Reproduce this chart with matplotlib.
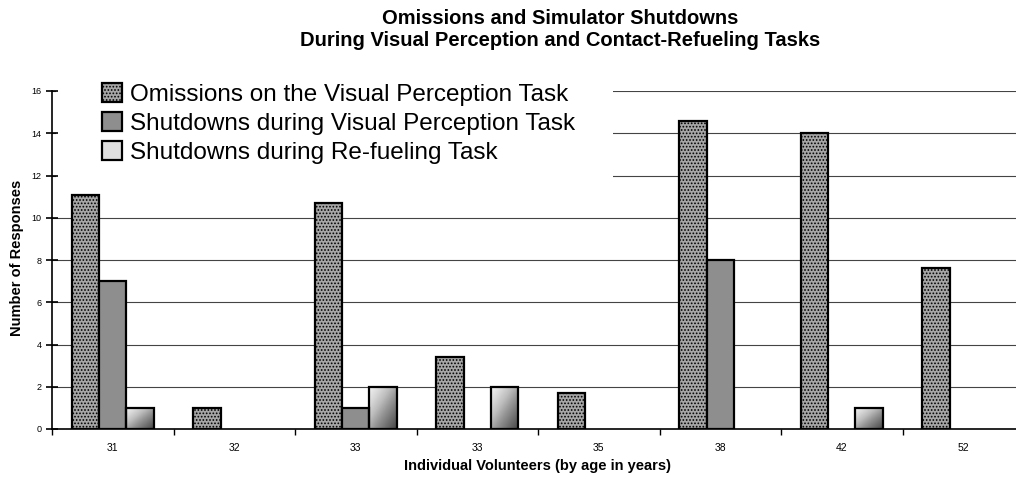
import numpy as np
import matplotlib
matplotlib.use("Agg")
import matplotlib.pyplot as plt
from matplotlib.patches import Patch, Rectangle

plt.rcParams['font.family'] = ['Liberation Sans', 'DejaVu Sans']
plt.rcParams['hatch.linewidth'] = 0.8

# data
volunteers = ['31', '32', '33', '33', '35', '38', '42', '52']
omissions_vp = [11.1, 1.0, 10.7, 3.4, 1.7, 14.6, 14.0, 7.6]
shutdowns_vp = [7, 0, 1, 0, 0, 8, 0, 0]
shutdowns_refuel = [1, 0, 2, 2, 0, 0, 1, 0]
series_labels = ['Omissions on the Visual Perception Task',
                 'Shutdowns during Visual Perception Task',
                 'Shutdowns during Re-fueling Task']

fig = plt.figure(figsize=(10.16, 4.79), dpi=100)
ax = fig.add_axes([52/1016, 1-429/479, (1024-52)/1016, (429-91)/479])

x = np.arange(len(volunteers))
w = 0.225

# gridlines
for yv in range(2, 17, 2):
    ax.axhline(yv, color='#444444', lw=0.8, zorder=1)

# white area behind the legend hides the upper gridlines on the left
ax.add_patch(Rectangle((56/1016, 1-186/479), (613-56)/1016, (186-55)/479,
                       transform=fig.transFigure, facecolor='white',
                       edgecolor='none', zorder=1.5, clip_on=False))

b1 = ax.bar(x - w, omissions_vp, w, facecolor='#a6a6a6', edgecolor='black',
            hatch='.....', lw=1.6, zorder=3)
b2 = ax.bar(x, shutdowns_vp, w, facecolor='#8e8e8e', edgecolor='black',
            lw=1.6, zorder=3)
b3 = ax.bar(x + w, shutdowns_refuel, w, facecolor='none', edgecolor='black',
            lw=1.6, zorder=3)
for cont in (b1, b2, b3):
    for rect in cont:
        if rect.get_height() == 0:
            rect.set_visible(False)

# diagonal white-to-grey gradient inside the re-fueling bars
gx, gy = np.meshgrid(np.linspace(0, 1, 50), np.linspace(0, 1, 50))
grad = (gx + gy) / 2
for rect, v in zip(b3, shutdowns_refuel):
    if v <= 0:
        continue
    x0 = rect.get_x()
    im = ax.imshow(grad, extent=[x0, x0 + rect.get_width(), 0, v], origin='upper',
                   cmap='Greys', vmin=-0.15, vmax=1.3, aspect='auto', zorder=2.5,
                   interpolation='bilinear')
    im.set_clip_path(rect)

ax.set_xlim(-0.5, len(volunteers) - 0.5)
ax.set_ylim(0, 16)

ax.spines['top'].set_visible(False)
ax.spines['right'].set_visible(False)
ax.spines['left'].set_linewidth(1.2)
ax.spines['bottom'].set_linewidth(1.2)

ax.set_xticks(x)
ax.set_xticklabels(volunteers, fontsize=7.5)
ax.tick_params(axis='x', which='major', length=0, pad=10)
ax.set_xticks(np.arange(len(volunteers)) - 0.5, minor=True)
ax.tick_params(axis='x', which='minor', length=4, direction='out', width=1)

ax.set_yticks(range(0, 17, 2))
ax.tick_params(axis='y', labelsize=6.5, direction='inout', length=8, width=1.2)

fig.text(537/1016, 1-466/479, 'Individual Volunteers (by age in years)',
         fontsize=10.5, fontweight='bold', ha='center', va='center')
fig.text(17/1016, 1-258/479, 'Number of Responses', rotation=90, fontsize=10.5,
         fontweight='bold', ha='center', va='center')

fig.text(560/1016, 1-19/479, 'Omissions and Simulator Shutdowns',
         fontsize=14.5, fontweight='bold', ha='center', va='center')
fig.text(560/1016, 1-41/479, 'During Visual Perception and Contact-Refueling Tasks',
         fontsize=14.5, fontweight='bold', ha='center', va='center')

handles = [Patch(facecolor='#a6a6a6', edgecolor='black', hatch='.....', lw=1.6),
           Patch(facecolor='#8e8e8e', edgecolor='black', lw=1.6),
           Patch(facecolor='#e0e0e0', edgecolor='black', lw=1.6)]
leg = ax.legend(handles, series_labels, loc='upper left',
                bbox_to_anchor=(102/1016, 1-83/479),
                bbox_transform=fig.transFigure, fontsize=17.5,
                handlelength=0.82, handleheight=0.82, handletextpad=0.33,
                labelspacing=0.25, borderpad=0, borderaxespad=0,
                frameon=False)
leg.set_zorder(4)

fig.savefig('out.png', dpi=100)
